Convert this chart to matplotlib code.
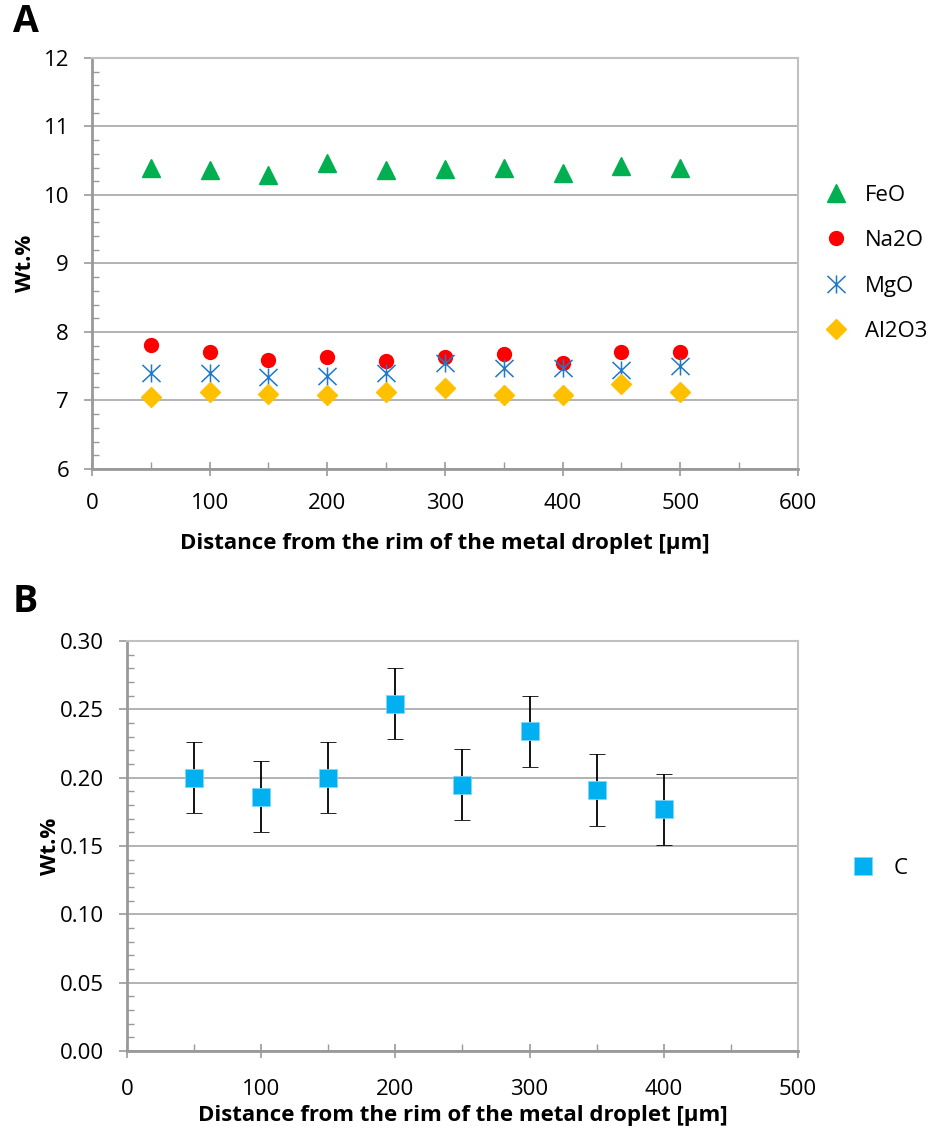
"""
Oxide and carbon profiles vs. distance from metal droplet rim.
"""

import matplotlib
matplotlib.use("Agg")
import matplotlib.pyplot as plt
from matplotlib.path import Path
from matplotlib.lines import Line2D
from matplotlib.ticker import MultipleLocator, FormatStrFormatter

plt.rcParams["font.family"] = ["Open Sans", "DejaVu Sans"]

# ---------------------------------------------------------------------------
# Data
# ---------------------------------------------------------------------------
dist_a = [50, 100, 150, 200, 250, 300, 350, 400, 450, 500]
feo = [10.40, 10.36, 10.29, 10.47, 10.37, 10.38, 10.39, 10.32, 10.43, 10.39]
na2o = [7.81, 7.71, 7.59, 7.64, 7.57, 7.64, 7.68, 7.55, 7.71, 7.71]
mgo = [7.40, 7.40, 7.34, 7.36, 7.40, 7.55, 7.48, 7.47, 7.45, 7.51]
al2o3 = [7.05, 7.13, 7.10, 7.08, 7.13, 7.18, 7.08, 7.08, 7.24, 7.13]

dist_b = [50, 100, 150, 200, 250, 300, 350, 400]
carbon = [0.200, 0.186, 0.200, 0.254, 0.195, 0.234, 0.191, 0.177]
carbon_err = [0.026, 0.026, 0.026, 0.026, 0.026, 0.026, 0.026, 0.026]

XLABEL = "Distance from the rim of the metal droplet [µm]"

# Excel-style asterisk: X plus vertical bar
asterisk = Path(
    [(-1, -0.95), (1, 0.95), (-1, 0.95), (1, -0.95), (0, -1), (0, 1)],
    [Path.MOVETO, Path.LINETO, Path.MOVETO, Path.LINETO, Path.MOVETO, Path.LINETO],
)

GRID = "#a6a6a6"
FS = 16


def _style(ax, xmax, xmajor, ymin, ymax, ymajor, yminor, yfmt, xpad, labelpad):
    ax.set_xlim(0, xmax)
    ax.set_ylim(ymin, ymax)
    ax.xaxis.set_major_locator(MultipleLocator(xmajor))
    ax.xaxis.set_minor_locator(MultipleLocator(xmajor / 2))
    ax.yaxis.set_major_locator(MultipleLocator(ymajor))
    ax.yaxis.set_minor_locator(MultipleLocator(yminor))
    ax.yaxis.set_major_formatter(FormatStrFormatter(yfmt))
    ax.grid(True, axis="y", which="major", color=GRID, lw=1.2)
    ax.set_axisbelow(True)
    for side in ("top", "right"):
        ax.spines[side].set_color("#c0c0c0")
        ax.spines[side].set_linewidth(1.5)
    for side in ("left", "bottom"):
        ax.spines[side].set_color("#999999")
        ax.spines[side].set_linewidth(2.0)
    ax.tick_params(axis="y", which="major", direction="out", length=6,
                   color="#999999", width=1.2, labelsize=FS, pad=10.5)
    ax.tick_params(axis="y", which="minor", direction="in", length=5,
                   color="#999999", width=1.0)
    ax.tick_params(axis="x", which="major", direction="inout", length=10,
                   color="#999999", width=1.2, labelsize=FS, pad=xpad)
    ax.tick_params(axis="x", which="minor", direction="in", length=5,
                   color="#999999", width=1.0)
    ax.set_xlabel(XLABEL, fontsize=FS, fontweight="bold", labelpad=labelpad)
    ax.set_ylabel("Wt.%", fontsize=FS, fontweight="bold")


fig = plt.figure(figsize=(9.33, 11.35), dpi=100)

# Panel A
ax1 = fig.add_axes([0.0986, 0.5868, 0.7567, 0.3621])
ax1.plot(dist_a, feo, ls="none", marker="^", ms=13.5, color="#00b050", label="FeO")
ax1.plot(dist_a, na2o, ls="none", marker="o", ms=10, color="#ff0000", label="Na2O")
ax1.plot(dist_a, mgo, ls="none", marker=asterisk, ms=13, mew=1.1,
         color="#1f78c8", label="MgO")
ax1.plot(dist_a, al2o3, ls="none", marker="D", ms=10, color="#ffc000", label="Al2O3")
_style(ax1, 600, 100, 6, 12, 1, 0.2, "%d", xpad=12.6, labelpad=13.6)
ax1.yaxis.set_label_coords(-0.080, 0.5)
ax1.legend(loc="center left", bbox_to_anchor=(1.007, 0.500), frameon=False,
           fontsize=FS, labelspacing=1.1, handletextpad=0.7, handlelength=1.2)

# Panel B
ax2 = fig.add_axes([0.1361, 0.0740, 0.7192, 0.3612])
ax2.errorbar(dist_b, carbon, yerr=carbon_err, ls="none", marker="s", ms=13.5,
             color="#00b0f0", mec="#7fd8f8", mew=0.6, ecolor="black",
             elinewidth=1.3, capsize=6, capthick=1.3)
_style(ax2, 500, 100, 0, 0.30, 0.05, 0.01, "%.2f", xpad=15.5, labelpad=3.5)
ax2.yaxis.set_label_coords(-0.099, 0.5)
c_handle = Line2D([], [], ls="none", marker="s", ms=13.5, color="#00b0f0",
                  mec="#7fd8f8", mew=0.6)
ax2.legend([c_handle], ["C"], loc="center left", bbox_to_anchor=(1.047, 0.445),
           frameon=False, fontsize=FS, handletextpad=0.8, handlelength=1.2)

fig.text(0.014, 0.981, "A", fontsize=27, fontweight="bold", va="center")
fig.text(0.014, 0.470, "B", fontsize=27, fontweight="bold", va="center")

fig.savefig("out.png", dpi=100)
